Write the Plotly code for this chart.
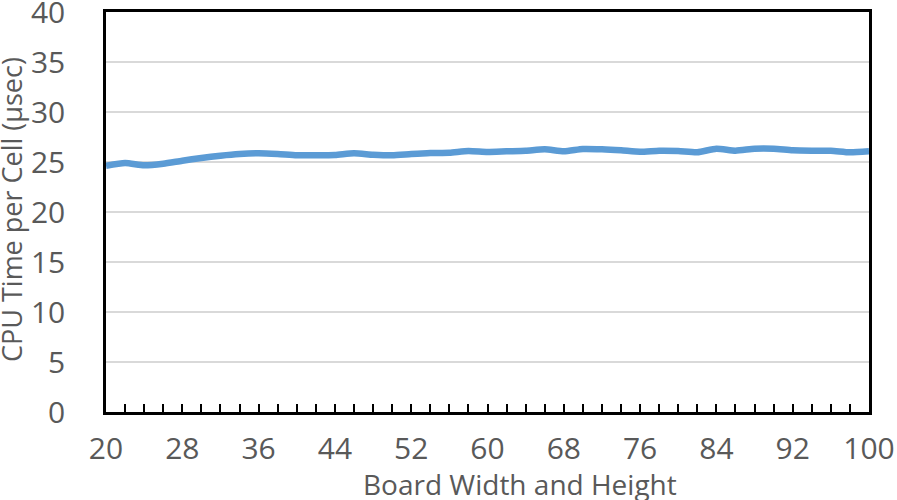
import plotly.graph_objects as go

board_size = list(range(20, 101, 2))
cpu_time = [24.63, 24.9, 24.67, 24.83, 25.13, 25.4, 25.63, 25.8, 25.87, 25.8,
            25.67, 25.67, 25.7, 25.87, 25.73, 25.67, 25.8, 25.9, 25.93, 26.1,
            26.0, 26.07, 26.13, 26.27, 26.07, 26.3, 26.27, 26.17, 26.03, 26.13,
            26.1, 25.97, 26.33, 26.13, 26.33, 26.33, 26.17, 26.13, 26.13, 25.97,
            26.07]
x_labels = list(range(20, 101, 8))
y_ticks = list(range(0, 41, 5))
x_title = "Board Width and Height"
y_title = "CPU Time per Cell (µsec)"

FONT = "Open Sans"
GREY = "#595959"

fig = go.Figure()
fig.add_trace(go.Scatter(
    x=board_size, y=cpu_time, mode="lines",
    line=dict(color="#5B9BD5", width=6.5, shape="spline", smoothing=0.6),
    showlegend=False,
))

fig.update_layout(
    width=897, height=500,
    margin=dict(l=106, r=28, t=12, b=88),
    paper_bgcolor="white", plot_bgcolor="white",
    font=dict(family=FONT, color=GREY),
)
fig.update_xaxes(
    automargin=False, ticklabeloverflow="allow",
    range=[20, 100], tickmode="array", tickvals=x_labels,
    ticktext=[str(v) for v in x_labels],
    tickfont=dict(size=30, color=GREY, family=FONT),
    ticks="inside", ticklen=8, tickwidth=2, tickcolor="black",
    minor=dict(dtick=2, tick0=20, ticks="inside", ticklen=8, tickwidth=2,
               tickcolor="black", showgrid=False),
    showgrid=False, zeroline=False,
    showline=True, linecolor="black", linewidth=2.5, mirror=True,
    ticklabelstandoff=8,
)
fig.update_yaxes(
    automargin=False, ticklabeloverflow="allow",
    range=[0, 40], tickmode="array", tickvals=y_ticks,
    tickfont=dict(size=30, color=GREY, family=FONT),
    ticks="", showgrid=True, gridcolor="#D9D9D9", gridwidth=2,
    zeroline=False,
    showline=True, linecolor="black", linewidth=2.5, mirror=True,
    ticklabelstandoff=32,
)
fig.add_annotation(
    text=x_title, xref="paper", yref="paper", x=0.542, y=-0.179,
    xanchor="center", yanchor="middle", showarrow=False,
    font=dict(size=28, color=GREY, family=FONT),
)
fig.add_annotation(
    text=y_title, xref="paper", yref="paper", x=-0.1245, y=0.505,
    xanchor="center", yanchor="middle", showarrow=False, textangle=-90,
    font=dict(size=27, color=GREY, family=FONT),
)

fig.write_html("out.html", post_script="document.body.style.margin='0';",
               config={"displayModeBar": False})
